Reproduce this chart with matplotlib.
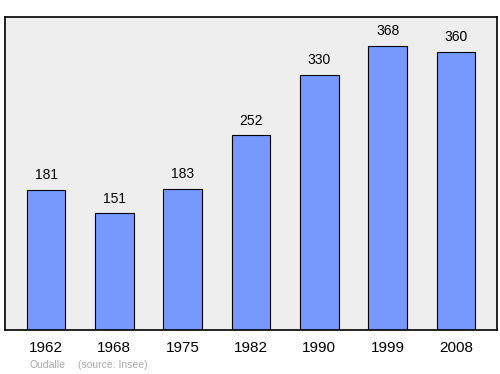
import matplotlib
matplotlib.use('Agg')
import matplotlib.pyplot as plt

# Population data
years = ['1962', '1968', '1975', '1982', '1990', '1999', '2008']
population = [181, 151, 183, 252, 330, 368, 360]

plt.rcParams['font.family'] = ['Liberation Sans', 'DejaVu Sans']

fig = plt.figure(figsize=(5, 3.74), dpi=100)
ax = fig.add_axes([0.01, 0.1176, 0.984, 0.837])
ax.set_facecolor('#eeeeee')

x = range(len(years))
ax.bar(x, population, width=0.57, color='#7799ff', edgecolor='black', linewidth=0.8, zorder=2)

# Value labels above each bar
for xi, v in zip(x, population):
    ax.text(xi, v + 10, str(v), ha='center', va='bottom', fontsize=10, color='black')

ax.set_xlim(-0.6, 6.6)
ax.set_ylim(0, 405)
ax.set_xticks(list(x))
ax.set_xticklabels(years, fontsize=11)
ax.tick_params(axis='x', length=0, pad=8)
ax.set_yticks([])
for s in ax.spines.values():
    s.set_linewidth(1.2)

fig.text(0.06, 0.012, 'Oudalle', fontsize=7.5, color='#aaaaaa', ha='left', va='bottom')
fig.text(0.155, 0.012, '(source: Insee)', fontsize=7.5, color='#aaaaaa', ha='left', va='bottom')

fig.savefig('out.png', dpi=100)
